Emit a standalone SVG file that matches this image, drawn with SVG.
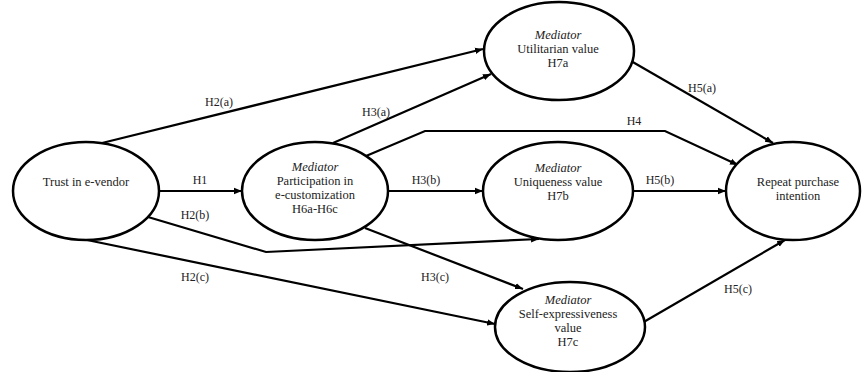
<svg xmlns="http://www.w3.org/2000/svg" width="862" height="372" viewBox="0 0 862 372">
<defs>
<marker id="arr" viewBox="0 0 10 10" refX="10" refY="5" markerWidth="8" markerHeight="8" markerUnits="userSpaceOnUse" orient="auto">
<path d="M0,1 L10,5 L0,9 z" fill="#000"/>
</marker>
</defs>
<style>
.node ellipse{fill:#fff;stroke:#000;stroke-width:2.5}
.t{font-family:"Liberation Serif",serif;font-size:12.5px;fill:#222;text-anchor:middle}
.i{font-style:italic}
.lbl{font-family:"Liberation Serif",serif;font-size:12px;fill:#222;text-anchor:middle}
#connectors path{fill:none;stroke:#000;stroke-width:2.2;marker-end:url(#arr)}
</style>
<rect width="862" height="372" fill="#fff"/>
<g id="connectors">
<path d="M102,143 L483,49"/>
<path d="M333,143 L491,74"/>
<path d="M366,156 L425,131 L665,131 L738,165"/>
<path d="M631,61 L773,143"/>
<path d="M159,191 L242,191"/>
<path d="M388,191 L483,191"/>
<path d="M633,191 L726,191"/>
<path d="M148,217 L266,252 L539,239"/>
<path d="M87,240 L495,324"/>
<path d="M365,228 L523,289"/>
<path d="M642,323 L785,240"/>
</g>
<g id="labels">
<text class="lbl" x="219" y="106">H2(a)</text>
<text class="lbl" x="376" y="116">H3(a)</text>
<text class="lbl" x="634" y="125">H4</text>
<text class="lbl" x="702" y="92">H5(a)</text>
<text class="lbl" x="200" y="184">H1</text>
<text class="lbl" x="426" y="184">H3(b)</text>
<text class="lbl" x="660" y="184">H5(b)</text>
<text class="lbl" x="195" y="219">H2(b)</text>
<text class="lbl" x="195" y="281">H2(c)</text>
<text class="lbl" x="435" y="281">H3(c)</text>
<text class="lbl" x="738" y="293">H5(c)</text>
</g>
<g id="trust" class="node">
<ellipse cx="86" cy="191" rx="73" ry="49"/>
<text class="t" x="86" y="186">Trust in e-vendor</text>
</g>
<g id="participation" class="node">
<ellipse cx="315" cy="191" rx="73" ry="49"/>
<text class="t i" x="315" y="171">Mediator</text>
<text class="t" x="315" y="185">Participation in</text>
<text class="t" x="315" y="199">e-customization</text>
<text class="t" x="315" y="213">H6a-H6c</text>
</g>
<g id="utilitarian" class="node">
<ellipse cx="559" cy="51" rx="75" ry="49"/>
<text class="t i" x="558" y="39">Mediator</text>
<text class="t" x="558" y="53">Utilitarian value</text>
<text class="t" x="558" y="67">H7a</text>
</g>
<g id="uniqueness" class="node">
<ellipse cx="558" cy="191" rx="75" ry="49"/>
<text class="t i" x="558" y="172">Mediator</text>
<text class="t" x="558" y="186">Uniqueness value</text>
<text class="t" x="558" y="200">H7b</text>
</g>
<g id="selfexp" class="node">
<ellipse cx="570" cy="327" rx="75" ry="45"/>
<text class="t i" x="568" y="304">Mediator</text>
<text class="t" x="568" y="318">Self-expressiveness</text>
<text class="t" x="568" y="332">value</text>
<text class="t" x="568" y="346">H7c</text>
</g>
<g id="repeat" class="node">
<ellipse cx="793" cy="191" rx="67" ry="49"/>
<text class="t" x="798" y="186">Repeat purchase</text>
<text class="t" x="798" y="200">intention</text>
</g>
</svg>
